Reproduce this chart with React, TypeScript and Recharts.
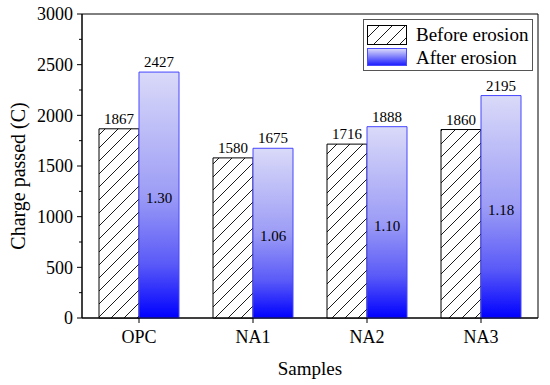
import { Bar, BarChart, LabelList, ReferenceArea, XAxis, YAxis } from "recharts";

const FONT = "Liberation Serif";

const samples = ["OPC", "NA1", "NA2", "NA3"];
const beforeErosion = [1867, 1580, 1716, 1860];
const afterErosion = [2427, 1675, 1888, 2195];
const ratios = ["1.30", "1.06", "1.10", "1.18"];
const yTicks = [0, 250, 500, 750, 1000, 1250, 1500, 1750, 2000, 2250, 2500, 2750, 3000];
const seriesNames = ["Before erosion", "After erosion"];

const data = samples.map((s, i) => ({
  sample: s,
  before: beforeErosion[i],
  after: afterErosion[i],
  ratio: ratios[i],
}));

const PLOT_LEFT = 82;
const txt = (size: number) => ({ fontFamily: FONT, fontSize: size, fill: "#000" });

function YTick(props: any) {
  const { y, payload } = props;
  const major = payload.value % 500 === 0;
  return (
    <g>
      <line x1={PLOT_LEFT - (major ? 5 : 3)} x2={PLOT_LEFT} y1={y} y2={y} stroke="#000" strokeWidth={1} />
      {major && (
        <text x={PLOT_LEFT - 9} y={y} dy="0.35em" textAnchor="end" style={txt(18)}>
          {payload.value}
        </text>
      )}
    </g>
  );
}

function XTick(props: any) {
  const { x, y, payload } = props;
  return (
    <text x={x} y={y} dy="0.75em" textAnchor="middle" style={txt(18)}>
      {payload.value}
    </text>
  );
}

function YTitle() {
  return (
    <text x={18} y={176} transform="rotate(-90, 18, 176)" textAnchor="middle" dy="0.35em" style={txt(20)}>
      Charge passed (C)
    </text>
  );
}

function XTitle() {
  return (
    <text x={310} y={368} textAnchor="middle" dy="0.35em" style={txt(19)}>
      Samples
    </text>
  );
}

function TopLabel(props: any) {
  const { x, y, width, value } = props;
  return (
    <text x={x + width / 2} y={y - 5} textAnchor="middle" style={txt(15)}>
      {value}
    </text>
  );
}

function MidLabel(props: any) {
  const { x, y, width, height, value } = props;
  return (
    <text x={x + width / 2} y={y + height / 2 + 3} dy="0.35em" textAnchor="middle" style={txt(15)}>
      {value}
    </text>
  );
}

function Swatch({ kind }: { kind: "hatch" | "blue" }) {
  return (
    <svg width={40} height={20} style={{ display: "block" }}>
      <defs>
        <pattern id="lg-hatch" patternUnits="userSpaceOnUse" width={13} height={13}>
          <path d="M0,13 L13,0 M-3,3 L3,-3 M10,16 L16,10" stroke="#000" strokeWidth={0.9} />
        </pattern>
        <linearGradient id="lg-blueGrad" x1="0" y1="0" x2="0" y2="1">
          <stop offset="0%" stopColor="#dedefa" />
          <stop offset="100%" stopColor="#1a1aff" />
        </linearGradient>
      </defs>
      {kind === "hatch" ? (
        <rect x={0.5} y={0.5} width={39} height={19} fill="url(#lg-hatch)" stroke="#000" />
      ) : (
        <rect x={0.5} y={0.5} width={39} height={17} fill="url(#lg-blueGrad)" stroke="#4a4aff" />
      )}
    </svg>
  );
}

export default function App() {
  return (
    <div style={{ position: "absolute", left: 0, top: 0, width: 550, height: 385, background: "#fff", fontFamily: FONT }}>
      <BarChart
        width={550}
        height={385}
        data={data}
        margin={{ top: 14, right: 12, left: 0, bottom: 0 }}
        barCategoryGap={17}
        barGap={0}
      >
        <defs>
          <pattern id="hatch" patternUnits="userSpaceOnUse" width={13} height={13}>
            <rect width={13} height={13} fill="#fff" />
            <path d="M0,13 L13,0 M-3,3 L3,-3 M10,16 L16,10" stroke="#000" strokeWidth={0.9} />
          </pattern>
          <linearGradient id="blueGrad" x1="0" y1="0" x2="0" y2="1">
            <stop offset="0%" stopColor="#dadaf9" />
            <stop offset="50%" stopColor="#9c9cf6" />
            <stop offset="78%" stopColor="#5a5af8" />
            <stop offset="100%" stopColor="#0000ff" />
          </linearGradient>
        </defs>
        <XAxis
          dataKey="sample"
          height={67}
          tickSize={5}
          tickMargin={6}
          stroke="#000"
          tick={<XTick />}
          label={<XTitle />}
        />
        <YAxis
          width={82}
          domain={[0, 3000]}
          ticks={yTicks}
          interval={0}
          tickLine={false}
          stroke="#000"
          tick={<YTick />}
          label={<YTitle />}
        />
        <ReferenceArea y1={0} y2={3000} fill="none" stroke="#000" strokeWidth={1} ifOverflow="visible" />
        <Bar dataKey="before" name={seriesNames[0]} fill="url(#hatch)" stroke="#000" strokeWidth={1} isAnimationActive={false}>
          <LabelList dataKey="before" content={<TopLabel />} />
        </Bar>
        <Bar dataKey="after" name={seriesNames[1]} fill="url(#blueGrad)" stroke="#4646ff" strokeWidth={1} isAnimationActive={false}>
          <LabelList dataKey="after" content={<TopLabel />} />
          <LabelList dataKey="ratio" content={<MidLabel />} />
        </Bar>
      </BarChart>
      <div
        style={{
          position: "absolute",
          left: 363,
          top: 19,
          width: 170,
          height: 52,
          boxSizing: "border-box",
          border: "1px solid #555",
          background: "#fff",
          fontFamily: FONT,
          fontSize: 19,
          color: "#000",
          padding: "3px 0 0 3px",
        }}
      >
        {seriesNames.map((n, i) => (
          <div key={n} style={{ display: "flex", alignItems: "center", height: 23 }}>
            <Swatch kind={i === 0 ? "hatch" : "blue"} />
            <span style={{ marginLeft: 9, lineHeight: "20px" }}>{n}</span>
          </div>
        ))}
      </div>
    </div>
  );
}
